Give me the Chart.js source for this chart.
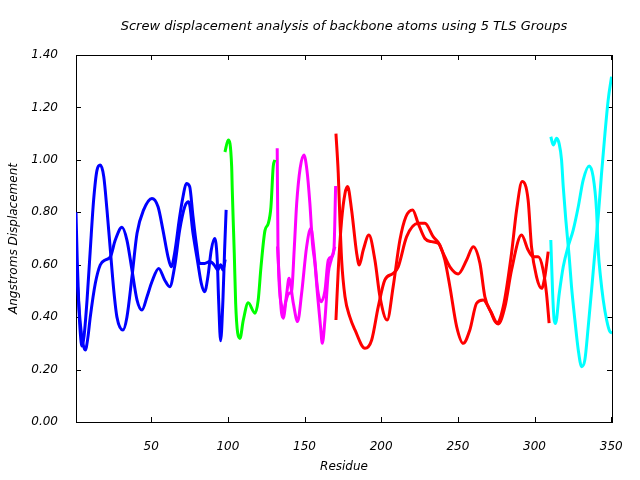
<!DOCTYPE html>
<html>
<head>
<meta charset="utf-8">
<script src="https://cdn.jsdelivr.net/npm/chart.js@4/dist/chart.umd.min.js"></script>
<style>
  body { margin: 0; background: #fff; }
</style>
</head>
<body>
<canvas id="chart" width="640" height="480"></canvas>
<script>
// tick labels
const xTicks = [50, 100, 150, 200, 250, 300, 350];
const yTicks = [0, 0.2, 0.4, 0.6, 0.8, 1.0, 1.2, 1.4];

// TLS group 1 (blue), two curves
const g1aRes = [1, 1.8, 2.8, 3.8, 4.9, 6.3, 8.2, 10.3, 12.5, 14.7, 16.8, 19.1, 21.2, 23.4, 25.6, 27.7, 31.6, 34.2, 37.5, 40.8, 45.1, 50.5, 54.5, 57.7, 61, 63.1, 65.3, 68.6, 70.8, 72.9, 75.1, 77.3, 79.4, 81.6, 84.9, 88.2, 91, 93.5, 95.3, 96.8, 98.3];
const g1aVal = [0.80, 0.62, 0.45, 0.34, 0.29, 0.33, 0.465, 0.656, 0.847, 0.961, 0.98, 0.936, 0.809, 0.656, 0.504, 0.40, 0.351, 0.40, 0.554, 0.72, 0.809, 0.853, 0.821, 0.732, 0.63, 0.592, 0.644, 0.783, 0.86, 0.91, 0.898, 0.783, 0.682, 0.605, 0.605, 0.612, 0.60, 0.58, 0.60, 0.58, 0.62];
const g1bRes = [1, 2.2, 3.8, 5.5, 7.1, 8.7, 10.3, 13.6, 16.8, 20.1, 23.4, 26.6, 31, 34.2, 37.5, 40.8, 44, 47.3, 50.5, 54.9, 58.8, 62.1, 65.3, 68.6, 71.9, 74.5, 77.3, 80.5, 82.7, 84.9, 87, 89.2, 91.4, 93.1, 94, 95.3, 96.8, 97.9, 98.9];
const g1bVal = [0.60, 0.50, 0.377, 0.30, 0.275, 0.32, 0.40, 0.529, 0.599, 0.618, 0.63, 0.694, 0.743, 0.694, 0.58, 0.465, 0.427, 0.478, 0.535, 0.586, 0.542, 0.516, 0.592, 0.732, 0.821, 0.84, 0.72, 0.605, 0.529, 0.497, 0.554, 0.656, 0.70, 0.618, 0.465, 0.31, 0.465, 0.656, 0.809];

// TLS group 2 (green)
const g2Res = [98.1, 100.3, 102.5, 102.9, 103.5, 104.2, 105.1, 106.4, 107.9, 110.1, 113.3, 117.7, 119.8, 121.6, 124.2, 126.4, 128.1, 129.6, 130.7];
const g2Val = [1.03, 1.076, 0.974, 0.885, 0.77, 0.644, 0.454, 0.34, 0.319, 0.389, 0.455, 0.415, 0.465, 0.59, 0.73, 0.758, 0.82, 0.974, 1.0];

// TLS group 3 (magenta)
const g3aRes = [132.2, 132.7, 135.1, 136.1, 138.4, 139.9, 142.7, 145.5, 148.1, 151.4, 154.2, 155.7, 158.6, 160.7, 163.3, 165.5, 167.7, 169.2, 170.3];
const g3aVal = [1.044, 0.67, 0.44, 0.396, 0.49, 0.548, 0.453, 0.383, 0.49, 0.669, 0.739, 0.682, 0.504, 0.459, 0.50, 0.618, 0.63, 0.66, 0.90];
const g3bRes = [132.4, 133.5, 135.5, 137.8, 139.8, 141.6, 143.3, 144.9, 147.2, 149.6, 151.6, 153.5, 155.2, 156.8, 158.6, 160.5, 161.6, 163.3, 165.5, 167.5, 169.8];
const g3bVal = [0.67, 0.55, 0.40, 0.46, 0.49, 0.50, 0.66, 0.834, 0.97, 1.019, 0.96, 0.834, 0.68, 0.605, 0.478, 0.36, 0.30, 0.389, 0.567, 0.62, 0.669];

// TLS group 4 (red)
const g4aRes = [170.5, 172, 173.1, 174.2, 176.4, 179.6, 182.9, 189.4, 193.8, 198.1, 202.4, 207.8, 211.1, 216.6, 224.1, 228.5, 233.9, 238.3, 241.5, 244.8, 249.2, 253.5, 257.8, 262.2, 266.5, 270.9, 275.2, 279.6, 285, 288.3, 291.9, 295.8, 298, 301.3, 304.6, 306.7, 308.9];
const g4aVal = [1.10, 0.949, 0.77, 0.618, 0.478, 0.40, 0.351, 0.281, 0.313, 0.44, 0.542, 0.567, 0.592, 0.707, 0.758, 0.758, 0.707, 0.675, 0.618, 0.516, 0.364, 0.30, 0.351, 0.453, 0.465, 0.427, 0.377, 0.44, 0.644, 0.809, 0.917, 0.847, 0.669, 0.554, 0.51, 0.554, 0.65];
const g4bRes = [170.5, 172, 174.2, 176.4, 178.1, 180.7, 184, 185.7, 188.3, 192, 195.9, 199.2, 203.9, 207.8, 212.2, 216.1, 220.5, 224.1, 228.5, 232.9, 237.2, 240.4, 244.8, 250.2, 255.7, 260, 264.4, 267.6, 272, 276.3, 280.7, 285, 291.5, 295.8, 299.1, 302.4, 305.6, 307.8, 309.5];
const g4bVal = [0.389, 0.58, 0.77, 0.872, 0.898, 0.809, 0.644, 0.599, 0.656, 0.713, 0.618, 0.478, 0.389, 0.516, 0.694, 0.783, 0.809, 0.758, 0.70, 0.688, 0.682, 0.644, 0.592, 0.565, 0.618, 0.669, 0.605, 0.478, 0.415, 0.374, 0.44, 0.58, 0.713, 0.656, 0.63, 0.63, 0.58, 0.49, 0.377];

// TLS group 5 (cyan)
const g5aRes = [310.6, 312.2, 314.4, 316.1, 317.6, 318.7, 320.4, 322.6, 324.1, 326.3, 328.5, 330.7, 332.8, 335, 337.2, 339.3, 341.5, 343.7, 345.9, 348, 350.2];
const g5aVal = [1.088, 1.057, 1.082, 1.06, 1.0, 0.898, 0.77, 0.63, 0.516, 0.389, 0.275, 0.211, 0.237, 0.364, 0.504, 0.644, 0.783, 0.949, 1.10, 1.228, 1.317];
const g5bRes = [310.6, 311.8, 312.8, 313.7, 316.1, 318.7, 321.9, 325.2, 328.5, 331.7, 335.6, 338.2, 340.4, 341.5, 343, 344.8, 347, 349.1, 350.6];
const g5bVal = [0.694, 0.49, 0.389, 0.376, 0.49, 0.592, 0.669, 0.732, 0.821, 0.923, 0.977, 0.936, 0.809, 0.656, 0.554, 0.465, 0.389, 0.345, 0.34];

const FONT = { family: 'DejaVu Sans', size: 12, style: 'italic' };

function pts(res, val) {
  return res.map((r, i) => ({ x: r, y: val[i] }));
}

function series(res, val, color) {
  return {
    data: pts(res, val),
    borderColor: color,
    borderWidth: 3,
    pointRadius: 0,
    fill: false,
    cubicInterpolationMode: 'monotone'
  };
}

// gnuplot-like frame with inward ticks on all four sides
const framePlugin = {
  id: 'frame',
  beforeDatasetsDraw(chart) {
    const { ctx, chartArea: a, scales } = chart;
    ctx.save();
    ctx.strokeStyle = '#000';
    ctx.lineWidth = 1;
    ctx.strokeRect(a.left + 0.5, a.top + 0.5, a.right - a.left, a.bottom - a.top);
    ctx.beginPath();
    xTicks.forEach(t => {
      const px = Math.round(scales.x.getPixelForValue(t)) + 0.5;
      ctx.moveTo(px, a.bottom); ctx.lineTo(px, a.bottom - 5);
      ctx.moveTo(px, a.top); ctx.lineTo(px, a.top + 5);
    });
    yTicks.forEach(t => {
      const py = Math.round(scales.y.getPixelForValue(t)) + 0.5;
      ctx.moveTo(a.left, py); ctx.lineTo(a.left + 5, py);
      ctx.moveTo(a.right, py); ctx.lineTo(a.right - 5, py);
    });
    ctx.stroke();
    ctx.restore();
  },
  afterDraw(chart) {
    const { ctx, chartArea: a } = chart;
    ctx.save();
    ctx.font = 'italic 13px "DejaVu Sans"';
    ctx.fillStyle = '#000';
    ctx.textAlign = 'center';
    ctx.textBaseline = 'middle';
    ctx.fillText('Screw displacement analysis of backbone atoms using 5 TLS Groups', (a.left + a.right) / 2, 27);
    ctx.restore();
  }
};

new Chart(document.getElementById('chart'), {
  type: 'line',
  data: {
    datasets: [
      series(g1aRes, g1aVal, '#0000ff'),
      series(g1bRes, g1bVal, '#0000ff'),
      series(g2Res, g2Val, '#00ff00'),
      series(g3aRes, g3aVal, '#ff00ff'),
      series(g3bRes, g3bVal, '#ff00ff'),
      series(g4aRes, g4aVal, '#ff0000'),
      series(g4bRes, g4bVal, '#ff0000'),
      series(g5aRes, g5aVal, '#00ffff'),
      series(g5bRes, g5bVal, '#00ffff')
    ]
  },
  options: {
    responsive: false,
    animation: false,
    layout: { padding: { top: 55, right: 28, left: 0, bottom: 0 } },
    plugins: {
      legend: { display: false },
      tooltip: { enabled: false }
    },
    scales: {
      x: {
        type: 'linear',
        min: 1,
        max: 350.5,
        grid: { display: false },
        border: { display: false },
        afterBuildTicks: s => { s.ticks = xTicks.map(v => ({ value: v })); },
        afterFit: s => { s.height = 58; },
        ticks: { font: FONT, color: '#000', padding: 10, maxRotation: 0 },
        title: { display: true, text: 'Residue', font: FONT, color: '#000', padding: { top: 0, bottom: 6 } }
      },
      y: {
        min: 0,
        max: 1.4,
        grid: { display: false },
        border: { display: false },
        afterBuildTicks: s => { s.ticks = yTicks.map(v => ({ value: v })); },
        afterFit: s => { s.width = 76; },
        ticks: { font: FONT, color: '#000', padding: 10, callback: v => v.toFixed(2) },
        title: { display: true, text: 'Angstroms Displacement', font: FONT, color: '#000', padding: { top: 7, bottom: 0 } }
      }
    }
  },
  plugins: [framePlugin]
});
</script>
</body>
</html>
